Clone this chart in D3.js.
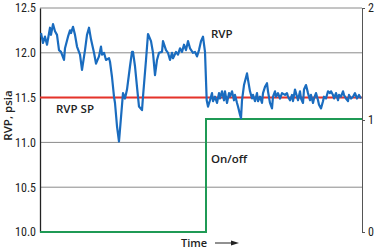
<!DOCTYPE html>
<html>
<head>
<meta charset="utf-8">
<script src="https://cdn.jsdelivr.net/npm/d3@7"></script>
<style>
  body { margin: 0; background: #fff; }
  svg { display: block; }
</style>
</head>
<body>
<div id="chart"></div>
<script>
// values (time in arbitrary units)
const rvpTime = [1, 3, 5, 7, 10, 11, 13, 15, 17, 19, 21, 24, 25, 28, 30, 31, 33, 35, 37, 40, 42, 45, 47, 49, 51, 54, 56, 59, 61, 62, 64, 66, 69, 70, 72, 74, 75, 77, 79,
  83, 85, 87, 90, 92, 93, 95, 97, 99, 102, 103, 106, 108, 111, 113, 115, 117, 119, 122, 123, 126, 128, 130, 132, 133, 136, 138, 140, 142, 144, 146, 148, 150, 153, 155, 157, 159, 161, 163, 165, 166.7, 168,
  170, 172, 173, 175, 177, 179, 180, 182, 184, 185, 187, 189, 190, 192, 194, 195, 197, 198, 200, 201, 202, 204, 207, 208, 210, 212, 213, 215, 217, 218, 220, 222, 223, 225, 227, 228, 230, 232, 233, 235, 236, 238, 240, 242, 245,
  247, 248, 250, 252, 253, 255, 256, 258, 260, 261, 263, 264, 266, 268, 270, 271, 273, 274, 276, 278, 279, 281, 283, 284, 286, 288, 290, 291, 293, 294, 296, 298, 299, 301, 303, 304, 306, 308, 309, 311, 313, 315, 317, 319, 321]
const rvpValues = [12.22, 12.11, 12.18, 12.09, 12.28, 12.20, 12.32, 12.24, 12.20, 12.03, 12.01, 11.92, 12.05, 12.18, 12.25, 12.22, 12.29, 12.20, 12.07, 11.98, 11.81, 12.03, 12.20, 12.28, 12.15, 12.00, 11.88, 11.96, 12.07, 11.98, 12.00, 11.92, 11.94, 11.90, 11.73, 11.51, 11.44, 11.18, 11.01,
  11.55, 11.49, 11.59, 11.85, 12.01, 12.01, 11.85, 11.62, 11.40, 11.36, 11.51, 11.92, 12.21, 12.13, 12.00, 11.75, 11.92, 12.00, 12.01, 12.13, 12.03, 12.00, 11.92, 12.00, 11.94, 12.01, 11.98, 12.05, 12.01, 12.09, 12.03, 12.13, 12.05, 12.00, 12.01, 11.96, 12.03, 12.13, 12.18, 12.01, 11.47, 11.40,
  11.47, 11.55, 11.46, 11.51, 11.44, 11.55, 11.49, 11.57, 11.47, 11.57, 11.44, 11.55, 11.51, 11.57, 11.47, 11.53, 11.44, 11.40, 11.31, 11.27, 11.47, 11.64, 11.77, 11.70, 11.57, 11.49, 11.53, 11.46, 11.55, 11.46, 11.51, 11.44, 11.55, 11.62, 11.66, 11.57, 11.44, 11.38, 11.51, 11.57, 11.51, 11.55, 11.49, 11.55,
  11.53, 11.55, 11.51, 11.47, 11.53, 11.46, 11.59, 11.55, 11.47, 11.57, 11.49, 11.44, 11.59, 11.64, 11.55, 11.47, 11.53, 11.44, 11.49, 11.55, 11.47, 11.42, 11.38, 11.46, 11.51, 11.49, 11.57, 11.55, 11.57, 11.53, 11.49, 11.55, 11.47, 11.53, 11.51, 11.57, 11.53, 11.49, 11.46, 11.53, 11.49, 11.51, 11.55, 11.49, 11.53, 11.49]
const setpoint = 11.5
const onOffTime = [0, 166, 166, 322]
const onOffValues = [0, 0, 1.01, 1.01]
const leftTicks = [10.0, 10.5, 11.0, 11.5, 12.0, 12.5]
const rightTicks = [0, 1, 2]

const margin = { top: 8, right: 13, bottom: 18, left: 40 }
const width = 375 - margin.left - margin.right
const height = 250 - margin.top - margin.bottom

const svg = d3.select("#chart").append("svg")
    .attr("width", 375)
    .attr("height", 250)
  .append("g")
    .attr("transform", `translate(${margin.left},${margin.top})`)

const x = d3.scaleLinear().domain([0, 322]).range([0, width])
const y = d3.scaleLinear().domain([10, 12.5]).range([height, 0])
const y2 = d3.scaleLinear().domain([0, 2]).range([height, 0])

const tickFont = "'Liberation Sans Narrow', 'Roboto Condensed', Arial, sans-serif"
const labelFont = "'Open Sans', 'Noto Sans', sans-serif"

// grid lines (top one doubles as the frame)
svg.append("g")
  .selectAll("line")
  .data(leftTicks.filter(d => d > 10))
  .join("line")
    .attr("x1", 0).attr("x2", width)
    .attr("y1", d => y(d)).attr("y2", d => y(d))
    .attr("stroke", "#8a8a8a").attr("stroke-width", 1)

// right border with ticks
const right = svg.append("g")
  .attr("transform", `translate(${width},0)`)
  .call(d3.axisRight(y2).tickValues(rightTicks).tickSize(3).tickPadding(3).tickFormat(d3.format("d")))
right.select(".domain").attr("stroke", "#555")
right.selectAll(".tick line").attr("stroke", "#555")
right.selectAll("text").attr("font-family", tickFont).attr("font-size", 12).attr("fill", "#222")

// left axis
const left = svg.append("g")
  .call(d3.axisLeft(y).tickValues(leftTicks).tickSize(0).tickPadding(4).tickFormat(d3.format(".1f")))
left.select(".domain").attr("stroke", "#222").attr("stroke-width", 1.3)
left.selectAll("text").attr("font-family", tickFont).attr("font-size", 12).attr("fill", "#222")

// set point line
svg.append("line")
  .attr("x1", 0).attr("x2", width)
  .attr("y1", y(setpoint)).attr("y2", y(setpoint))
  .attr("stroke", "#e5332a").attr("stroke-width", 2)

// on/off step
svg.append("path")
  .datum(onOffTime.map((t, i) => [t, onOffValues[i]]))
  .attr("fill", "none")
  .attr("stroke", "#1f9a55")
  .attr("stroke-width", 2)
  .attr("d", d3.line().x(d => x(d[0])).y(d => y2(d[1])))

// RVP line
svg.append("path")
  .datum(rvpTime.map((t, i) => [t, rvpValues[i]]))
  .attr("fill", "none")
  .attr("stroke", "#1a6cbf")
  .attr("stroke-width", 2.2)
  .attr("stroke-linejoin", "round")
  .attr("d", d3.line().x(d => x(d[0])).y(d => y(d[1])))

// annotations
function label(tx, ty, txt) {
  svg.append("text")
    .attr("x", tx).attr("y", ty)
    .attr("font-family", labelFont)
    .attr("font-size", 11.5)
    .attr("font-weight", 600)
    .attr("fill", "#222")
    .text(txt)
}
label(x(171), y(12.17), "RVP")
label(x(16), y(11.33), "RVP SP")
label(x(171), y(10.77), "On/off")

svg.append("text")
  .attr("x", x(141)).attr("y", height + 15)
  .attr("font-family", labelFont).attr("font-size", 11).attr("font-weight", 600)
  .attr("fill", "#222")
  .text("Time")
svg.append("line")
  .attr("x1", x(175)).attr("x2", x(193))
  .attr("y1", height + 11).attr("y2", height + 11)
  .attr("stroke", "#222").attr("stroke-width", 1)
svg.append("path")
  .attr("d", `M${x(191)},${height + 8.5}L${x(199)},${height + 11}L${x(191)},${height + 13.5}Z`)
  .attr("fill", "#222")

svg.append("text")
  .attr("transform", `translate(${-margin.left + 12},${y(11.3)}) rotate(-90)`)
  .attr("text-anchor", "middle")
  .attr("font-family", labelFont).attr("font-size", 11.5).attr("font-weight", 600)
  .attr("fill", "#222")
  .text("RVP, psia")
</script>
</body>
</html>
